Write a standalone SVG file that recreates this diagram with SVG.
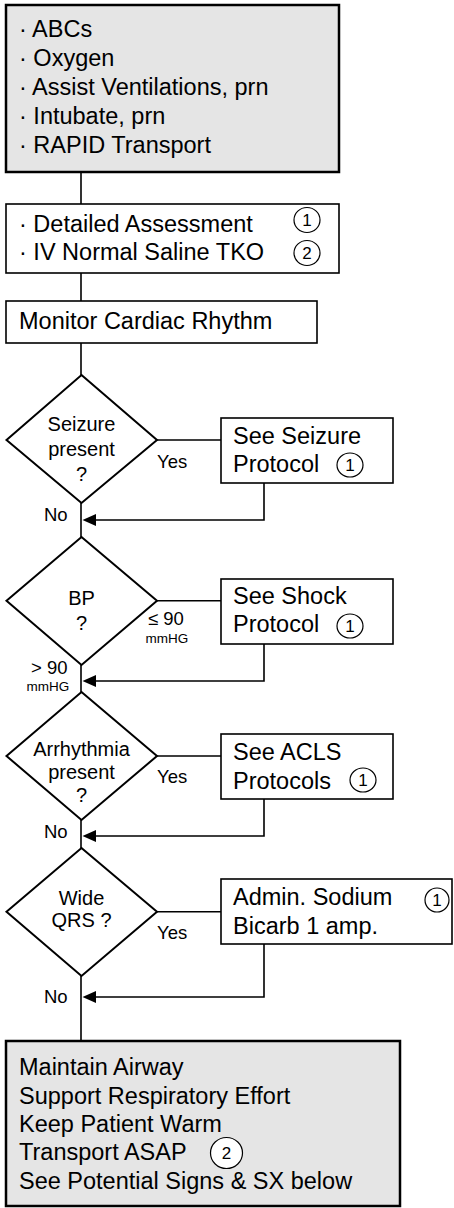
<svg xmlns="http://www.w3.org/2000/svg" width="454" height="1208" viewBox="0 0 454 1208">
<style>
text{font-family:"Liberation Sans",Arial,Helvetica,sans-serif;fill:#000}
.m{font-size:23.5px}
.d{font-size:20px;text-anchor:middle}
.l{font-size:18.5px}
.s{font-size:13.5px}
.n{font-size:17px;text-anchor:middle}
.gray{fill:#e5e5e5;stroke:#000;stroke-width:2.5}
.box{fill:#fff;stroke:#000;stroke-width:1.6}
.dia{fill:#fff;stroke:#000;stroke-width:2}
.c{fill:#fff;stroke:#000;stroke-width:1.2}
.ln{fill:none;stroke:#000;stroke-width:1.6}
</style>
<g id="connectors">
<path class="ln" d="M81,172 V204 M81,273 V301 M81,343 V375 M81,503 V537 M81,665 V692 M81,820 V848 M81,976 V1041"/>
<path class="ln" d="M157,440 H221 M157,600.7 H221 M157,756 H221 M157,911.7 H221"/>
<path d="M264,483 V520 H96" class="ln"/>
<path d="M264,644 V681 H96" class="ln"/>
<path d="M264,799 V836 H96" class="ln"/>
<path d="M264,944 V997 H96" class="ln"/>
<path d="M82.5,520 L96,514 L96,526 Z M82.5,681 L96,675 L96,687 Z M82.5,836 L96,830 L96,842 Z M82.5,997 L96,991 L96,1003 Z" fill="#000"/>
<text class="l" x="157" y="468">Yes</text>
<text class="l" x="44" y="521">No</text>
<text class="l" x="148" y="625">≤ 90</text>
<text class="s" x="145.5" y="643">mmHG</text>
<text class="l" x="31" y="674">&gt; 90</text>
<text class="s" x="26.5" y="691">mmHG</text>
<text class="l" x="157" y="783">Yes</text>
<text class="l" x="44" y="838">No</text>
<text class="l" x="157" y="939">Yes</text>
<text class="l" x="44" y="1003">No</text>
</g>
<g id="initial">
<rect class="gray" x="6" y="5" width="333" height="167"/>
<text class="m" x="19" y="37">· ABCs</text>
<text class="m" x="19" y="66">· Oxygen</text>
<text class="m" x="19" y="95">· Assist Ventilations, prn</text>
<text class="m" x="19" y="124">· Intubate, prn</text>
<text class="m" x="19" y="153">· RAPID Transport</text>
</g>
<g id="assessment">
<rect class="box" x="6" y="204" width="333" height="69"/>
<text class="m" x="19" y="231.5">· Detailed Assessment</text>
<text class="m" x="19" y="260">· IV Normal Saline TKO</text>
<ellipse class="c" cx="307" cy="220" rx="13" ry="12.5"/>
<text class="n" x="307" y="226">1</text>
<ellipse class="c" cx="307" cy="253" rx="13" ry="12.5"/>
<text class="n" x="307" y="259">2</text>
</g>
<g id="monitor">
<rect class="box" x="6" y="301" width="311" height="42"/>
<text class="m" x="19" y="328.5">Monitor Cardiac Rhythm</text>
</g>
<g id="seizure-q">
<path class="dia" d="M81.5,375 L157,440 L81.5,503 L6.5,440 Z"/>
<text class="d" x="81.5" y="430.5">Seizure</text>
<text class="d" x="81.5" y="456">present</text>
<text class="d" x="81.5" y="481">?</text>
</g>
<g id="seizure-box">
<rect class="box" x="221" y="418" width="172" height="65"/>
<text class="m" x="233" y="443.5">See Seizure</text>
<text class="m" x="233" y="472">Protocol</text>
<ellipse class="c" cx="350" cy="465" rx="13" ry="12"/>
<text class="n" x="350" y="471">1</text>
</g>
<g id="bp-q">
<path class="dia" d="M81.5,537 L157,600.7 L81.5,665 L6.5,600.7 Z"/>
<text class="d" x="81.5" y="605">BP</text>
<text class="d" x="81.5" y="630">?</text>
</g>
<g id="shock-box">
<rect class="box" x="221" y="579" width="172" height="65"/>
<text class="m" x="233" y="603.5">See Shock</text>
<text class="m" x="233" y="632">Protocol</text>
<ellipse class="c" cx="350" cy="626" rx="13" ry="12"/>
<text class="n" x="350" y="632">1</text>
</g>
<g id="arrhythmia-q">
<path class="dia" d="M81.5,692 L157,756 L81.5,820 L6.5,756 Z"/>
<text class="d" x="81.5" y="756">Arrhythmia</text>
<text class="d" x="81.5" y="779">present</text>
<text class="d" x="81.5" y="802">?</text>
</g>
<g id="acls-box">
<rect class="box" x="221" y="734" width="172" height="65"/>
<text class="m" x="233" y="760">See ACLS</text>
<text class="m" x="233" y="788.5">Protocols</text>
<ellipse class="c" cx="363" cy="780" rx="13" ry="12"/>
<text class="n" x="363" y="786">1</text>
</g>
<g id="qrs-q">
<path class="dia" d="M81.5,848 L157,911.7 L81.5,976 L6.5,911.7 Z"/>
<text class="d" x="81.5" y="905">Wide</text>
<text class="d" x="81.5" y="927">QRS ?</text>
</g>
<g id="bicarb-box">
<rect class="box" x="221" y="879" width="231" height="65"/>
<text class="m" x="233" y="905">Admin. Sodium</text>
<text class="m" x="233" y="934">Bicarb 1 amp.</text>
<ellipse class="c" cx="437" cy="900" rx="12" ry="12"/>
<text class="n" x="437" y="906">1</text>
</g>
<g id="final">
<rect class="gray" x="6" y="1041" width="394" height="165"/>
<text class="m" x="19" y="1075">Maintain Airway</text>
<text class="m" x="19" y="1103.5">Support Respiratory Effort</text>
<text class="m" x="19" y="1132">Keep Patient Warm</text>
<text class="m" x="19" y="1160">Transport ASAP</text>
<text class="m" x="19" y="1188.5">See Potential Signs &amp; SX below</text>
<ellipse class="c" cx="226.5" cy="1153" rx="16" ry="15.5"/>
<text class="n" x="226.5" y="1159">2</text>
</g>
</svg>
